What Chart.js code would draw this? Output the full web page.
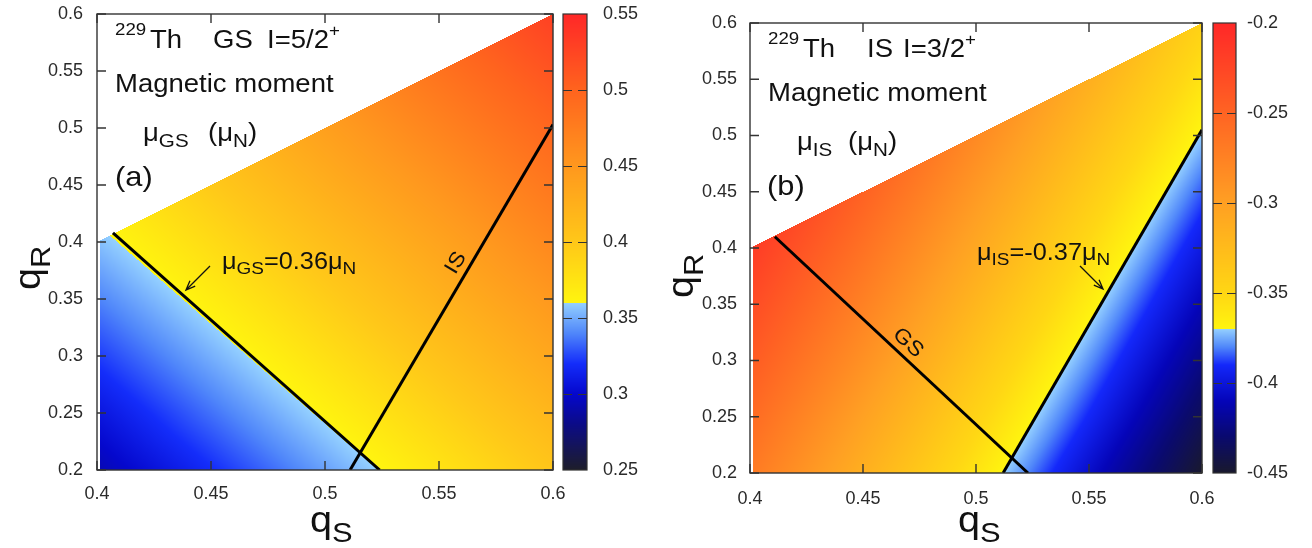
<!DOCTYPE html>
<html><head><meta charset="utf-8">
<script src="https://cdn.jsdelivr.net/npm/chart.js@4.4.1/dist/chart.umd.min.js"></script>
<style>
html,body{margin:0;padding:0;background:#fff;width:1312px;height:548px;overflow:hidden}
canvas{position:absolute;top:0}
#ca{left:0}
#cb{left:656px}
</style></head><body>
<canvas id="ca" width="656" height="548"></canvas>
<canvas id="cb" width="656" height="548"></canvas>
<script>
// ---------------- data ----------------
const qsNodes = [0.40, 0.45, 0.50, 0.55, 0.60];
const qrNodes = [0.20, 0.25, 0.30, 0.35, 0.40, 0.45, 0.50, 0.55, 0.60];
// mu_GS (mu_N) at node (qS column, qR row); null = outside qR<=qS
const muGS = [
  [0.292, 0.319, 0.347, 0.375, 0.403],
  [0.307, 0.335, 0.363, 0.391, 0.419],
  [0.323, 0.351, 0.379, 0.407, 0.435],
  [0.339, 0.367, 0.395, 0.423, 0.450],
  [0.355, 0.383, 0.411, 0.438, 0.466],
  [null,  0.399, 0.427, 0.454, 0.482],
  [null,  null,  0.442, 0.470, 0.498],
  [null,  null,  null,  0.486, 0.514],
  [null,  null,  null,  null,  0.530]
];
// mu_IS (mu_N)
const muIS = [
  [-0.268, -0.314, -0.359, -0.405, -0.450],
  [-0.255, -0.301, -0.346, -0.391, -0.437],
  [-0.242, -0.287, -0.333, -0.378, -0.424],
  [-0.229, -0.274, -0.320, -0.365, -0.411],
  [-0.216, -0.261, -0.307, -0.352, -0.398],
  [null,   -0.248, -0.294, -0.339, -0.385],
  [null,   null,   -0.281, -0.326, -0.371],
  [null,   null,   null,   -0.313, -0.358],
  [null,   null,   null,   null,   -0.345]
];
const qsTicks = [0.4, 0.45, 0.5, 0.55, 0.6];
const qrTicks = [0.2, 0.25, 0.3, 0.35, 0.4, 0.45, 0.5, 0.55, 0.6];
const cbTicksGS = [0.25, 0.3, 0.35, 0.4, 0.45, 0.5, 0.55];
const cbTicksIS = [-0.45, -0.4, -0.35, -0.3, -0.25, -0.2];
// contour / companion lines
const contourGS_a = [{x:0.407, y:0.408}, {x:0.524, y:0.2}];
const lineIS_a    = [{x:0.511, y:0.2},   {x:0.6,   y:0.503}];
const lineGS_b    = [{x:0.411, y:0.410}, {x:0.523, y:0.2}];
const contourIS_b = [{x:0.512, y:0.2},   {x:0.6,   y:0.505}];

// ---------------- styles ----------------
const FONT = '"Liberation Sans", Arial, Helvetica, sans-serif';
const cmapA = [
  [0.25, 30,30,42],[0.28, 12,12,135],[0.30, 5,8,205],[0.32, 20,45,250],
  [0.34, 80,135,250],[0.36, 148,208,255],[0.36, 255,245,15],[0.40, 255,200,25],
  [0.45, 255,152,30],[0.50, 255,100,30],[0.55, 255,40,40]
];
const cmapB = [
  [-0.45, 25,25,45],[-0.43, 10,10,110],[-0.41, 5,5,185],[-0.39, 20,40,250],
  [-0.38, 80,135,250],[-0.37, 148,208,255],[-0.37, 255,245,15],[-0.35, 255,215,20],
  [-0.30, 255,160,35],[-0.25, 255,100,35],[-0.20, 255,40,40]
];
const T = (x,y,size,parts,extra)=>Object.assign({x,y,size,parts},extra||{});

const panels = [
 { id:'ca', off:0, grid:muGS, lines:[contourGS_a, lineIS_a], cbMin:0.25, cbMax:0.55, cbTicks:cbTicksGS, cmap:cmapA,
   area:{left:97,right:553,top:14,bottom:470}, cbX:563, cbW:24, cbPad:50, yPad:14, xPad:14,
   texts:[
     T(115,35,17,[['229',0]]), T(150,48,25,[['Th',0]]), T(213,48,25,[['GS',0]]),
     T(267,48,25,[['I=5/2',0]]), T(329,36,17,[['+',0]]),
     T(115,92,25,[['Magnetic moment',0]]),
     T(143,141,25,[['μ',0],['GS',1]]), T(208,141,25,[['(μ',0],['N',1],[')',0]]),
     T(115,186,28,[['(a)',0]]),
     T(222,269,23,[['μ',0],['GS',1],['=0.36μ',0],['N',1]]),
     T(456,263,21,[['IS',0]],{rot:-59,center:true}),
     T(40,290,36,[['q',0],['R',1]],{rot:-90,sub:0.78,subDy:0.28}),
     T(310,532,36,[['q',0],['S',1]],{sub:0.78,subDy:0.28})
   ],
   arrows:[[210,266,186,290]] },
 { id:'cb', off:656, grid:muIS, lines:[lineGS_b, contourIS_b], cbMin:-0.45, cbMax:-0.2, cbTicks:cbTicksIS, cmap:cmapB,
   area:{left:94,right:546,top:23,bottom:473}, cbX:557, cbW:23, cbPad:45, yPad:13, xPad:16,
   texts:[
     T(768,44,17,[['229',0]]), T(803,57,25,[['Th',0]]), T(867,57,25,[['IS',0]]),
     T(903,57,25,[['I=3/2',0]]), T(965,45,17,[['+',0]]),
     T(768,101,25,[['Magnetic moment',0]]),
     T(797,150,25,[['μ',0],['IS',1]]), T(848,150,25,[['(μ',0],['N',1],[')',0]]),
     T(767,195,28,[['(b)',0]]),
     T(977,260,23,[['μ',0],['IS',1],['=-0.37μ',0],['N',1]]),
     T(908,343,21,[['GS',0]],{rot:43,center:true}),
     T(693,298,36,[['q',0],['R',1]],{rot:-90,sub:0.78,subDy:0.28}),
     T(958,532,36,[['q',0],['S',1]],{sub:0.78,subDy:0.28})
   ],
   arrows:[[1080,266,1103,289]] }
];

// ---------------- helpers ----------------
function fmt(v){ return String(+(+v).toFixed(2)); }
function cmapColor(stops, v){
  if (v <= stops[0][0]) return stops[0].slice(1);
  for (let k=0;k<stops.length-1;k++){
    const s0=stops[k], s1=stops[k+1];
    if (v <= s1[0]) {
      const t = s1[0]===s0[0] ? 0 : (v-s0[0])/(s1[0]-s0[0]);
      return [s0[1]+t*(s1[1]-s0[1]), s0[2]+t*(s1[2]-s0[2]), s0[3]+t*(s1[3]-s0[3])];
    }
  }
  return stops[stops.length-1].slice(1);
}
function sample(grid, qs, qr){
  const ds = qsNodes[1]-qsNodes[0], dr = qrNodes[1]-qrNodes[0];
  const fi = (qs-qsNodes[0])/ds, fj = (qr-qrNodes[0])/dr;
  if (fi < -1e-6 || fj < -1e-6 || fi > qsNodes.length-1+1e-6 || fj > qrNodes.length-1+1e-6) return null;
  let i = Math.min(Math.max(Math.floor(fi),0), qsNodes.length-2);
  let j = Math.min(Math.max(Math.floor(fj),0), qrNodes.length-2);
  const u = fi-i, v = fj-j;
  const A = grid[j][i];
  if (v <= u) {
    const B = grid[j][i+1], C = grid[j+1][i+1];
    if (A==null||B==null||C==null) return null;
    return A + u*(B-A) + v*(C-B);
  } else {
    const B = grid[j+1][i], C = grid[j+1][i+1];
    if (A==null||B==null||C==null) return null;
    return A + v*(B-A) + u*(C-B);
  }
}
function drawRich(ctx, t, off){
  const stretch = t.stretch || 1.1, sub = t.sub || 0.75, subDy = t.subDy || 0.22;
  ctx.save();
  ctx.translate(t.x-off, t.y);
  if (t.rot) ctx.rotate(t.rot*Math.PI/180);
  ctx.scale(stretch,1);
  ctx.fillStyle = '#111';
  ctx.textBaseline = t.center ? 'middle' : 'alphabetic';
  ctx.textAlign = 'left';
  let w = 0;
  for (const [s,m] of t.parts){ ctx.font = `${m? t.size*sub : t.size}px ${FONT}`; w += ctx.measureText(s).width; }
  let cx = t.center ? -w/2 : 0;
  for (const [s,m] of t.parts){
    ctx.font = `${m? t.size*sub : t.size}px ${FONT}`;
    const dy = m===1 ? t.size*subDy : (m===2 ? -t.size*0.45 : 0);
    ctx.fillText(s, cx, dy);
    cx += ctx.measureText(s).width;
  }
  ctx.restore();
}
function arrow(ctx, x1,y1,x2,y2){
  const a = Math.atan2(y2-y1,x2-x1), L=10, s=0.38;
  ctx.beginPath(); ctx.moveTo(x1,y1); ctx.lineTo(x2,y2);
  ctx.moveTo(x2-L*Math.cos(a-s), y2-L*Math.sin(a-s)); ctx.lineTo(x2,y2);
  ctx.lineTo(x2-L*Math.cos(a+s), y2-L*Math.sin(a+s));
  ctx.stroke();
}

function heatPlugin(p){
  return { id:'heat', beforeDatasetsDraw(chart){
    const {ctx, chartArea:a, scales} = chart;
    const xs = scales.x, ys = scales.y;
    const L = Math.round(a.left), Tp = Math.round(a.top);
    const w = Math.round(a.right)-L, h = Math.round(a.bottom)-Tp;
    const off = document.createElement('canvas'); off.width=w; off.height=h;
    const octx = off.getContext('2d');
    const img = octx.createImageData(w,h);
    for (let j=0;j<h;j++){
      const qr = ys.getValueForPixel(Tp+j+0.5);
      for (let i=3;i<w;i++){
        const qs = xs.getValueForPixel(L+i+0.5);
        const v = sample(p.grid, qs, qr);
        if (v===null) continue;
        const c = cmapColor(p.cmap, v);
        const k = (j*w+i)*4;
        img.data[k]=c[0]; img.data[k+1]=c[1]; img.data[k+2]=c[2]; img.data[k+3]=255;
      }
    }
    octx.putImageData(img,0,0);
    ctx.drawImage(off, L, Tp);
  }};
}
function decorPlugin(p){
  return { id:'decor', afterDatasetsDraw(chart){
    const {ctx, chartArea:a, scales} = chart;
    const xs = scales.x, ys = scales.y, cs = scales.c;
    ctx.save();
    // frame + inward mirrored ticks
    ctx.strokeStyle = '#333'; ctx.lineWidth = 1.4;
    ctx.strokeRect(a.left, a.top, a.right-a.left, a.bottom-a.top);
    ctx.beginPath();
    qsTicks.forEach(v=>{ const px = xs.getPixelForValue(v);
      ctx.moveTo(px,a.bottom); ctx.lineTo(px,a.bottom-9); ctx.moveTo(px,a.top); ctx.lineTo(px,a.top+9); });
    qrTicks.forEach(v=>{ const py = ys.getPixelForValue(v);
      ctx.moveTo(a.left,py); ctx.lineTo(a.left+9,py); ctx.moveTo(a.right,py); ctx.lineTo(a.right-9,py); });
    ctx.stroke();
    // colorbar
    for (let y=Math.round(a.top); y<Math.round(a.bottom); y++){
      const c = cmapColor(p.cmap, cs.getValueForPixel(y+0.5));
      ctx.fillStyle = `rgb(${c[0]|0},${c[1]|0},${c[2]|0})`;
      ctx.fillRect(p.cbX, y, p.cbW, 1);
    }
    ctx.strokeStyle = '#333'; ctx.lineWidth = 1.2;
    ctx.strokeRect(p.cbX, a.top, p.cbW, a.bottom-a.top);
    ctx.beginPath();
    p.cbTicks.forEach(v=>{ const py = Math.round(cs.getPixelForValue(v))+0.5;
      if (py < a.top+2 || py > a.bottom-2) return;
      ctx.moveTo(p.cbX,py); ctx.lineTo(p.cbX+9,py); ctx.moveTo(p.cbX+p.cbW,py); ctx.lineTo(p.cbX+p.cbW-9,py); });
    ctx.stroke();
    // arrows
    ctx.strokeStyle = '#111'; ctx.lineWidth = 1.3;
    p.arrows.forEach(r=>arrow(ctx, r[0]-p.off, r[1], r[2]-p.off, r[3]));
    // texts
    p.texts.forEach(t=>drawRich(ctx, t, p.off));
    ctx.restore();
  }};
}

function makeChart(p){
  const W = 656, H = 548;
  const tickFont = {family: FONT, size: 18};
  // label gap is produced with an invisible tick length (grid hidden) so that it does not
  // inflate the vertical padding of the layout
  const g = len => ({display:false, drawTicks:true, tickLength:len});
  return new Chart(document.getElementById(p.id).getContext('2d'), {
    type:'scatter',
    data:{ datasets: p.lines.map(d=>({data:d, showLine:true, borderColor:'#000', borderWidth:3,
           pointRadius:0, pointHoverRadius:0, fill:false, tension:0})) },
    options:{
      responsive:false, animation:false, devicePixelRatio:1, events:[],
      layout:{padding:{top:p.area.top, left:0, right:0, bottom:0}},
      plugins:{legend:{display:false}, tooltip:{enabled:false}},
      scales:{
        x:{type:'linear', position:'bottom', min:0.4, max:0.6,
           grid:g(p.xPad - 1), border:{display:false},
           ticks:{font:tickFont, color:'#2a2a2a', padding:0, maxRotation:0, autoSkip:false, callback:v=>fmt(v)},
           afterBuildTicks:s=>{ s.ticks = qsTicks.map(v=>({value:v})); },
           afterFit:s=>{ s.height = H - p.area.bottom; s.paddingLeft = 0; s.paddingRight = 0; }},
        y:{type:'linear', position:'left', min:0.2, max:0.6,
           grid:g(p.yPad), border:{display:false},
           ticks:{font:tickFont, color:'#2a2a2a', padding:0, autoSkip:false, callback:v=>fmt(v)},
           afterBuildTicks:s=>{ s.ticks = qrTicks.map(v=>({value:v})); },
           afterFit:s=>{ s.width = p.area.left; s.paddingTop = 0; s.paddingBottom = 0; }},
        c:{type:'linear', position:'right', min:p.cbMin, max:p.cbMax,
           grid:g(p.cbPad), border:{display:false},
           ticks:{font:tickFont, color:'#2a2a2a', padding:0, autoSkip:false, callback:v=>fmt(v)},
           afterBuildTicks:s=>{ s.ticks = p.cbTicks.map(v=>({value:v})); },
           afterFit:s=>{ s.width = W - p.area.right; s.paddingTop = 0; s.paddingBottom = 0; }}
      }
    },
    plugins:[heatPlugin(p), decorPlugin(p)]
  });
}
panels.forEach(makeChart);
</script>
</body></html>
